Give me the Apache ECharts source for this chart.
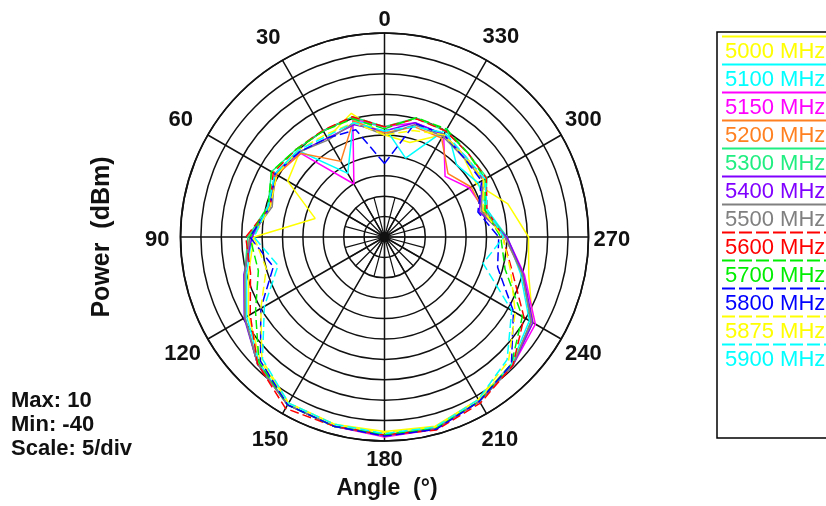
<!DOCTYPE html>
<html><head><meta charset="utf-8">
<script src="https://cdn.jsdelivr.net/npm/echarts@6/dist/echarts.min.js"></script>
<style>html,body{margin:0;padding:0;background:#fff}#c{width:826px;height:506px}</style>
</head><body><div id="c"></div>
<script>
const angles = [0,15,30,45,60,75,90,105,120,135,150,165,180,195,210,225,240,255,270,285,300,315,330,345];
const angleTicks = [0,30,60,90,120,150,180,210,240,270,300,330];
const names = ['5000 MHz','5100 MHz','5150 MHz','5200 MHz','5300 MHz','5400 MHz','5500 MHz','5600 MHz','5700 MHz','5800 MHz','5875 MHz','5900 MHz'];
const colors = ['#ffff00','#00ffff','#ff00ff','#ff8020','#20ee80','#8000ff','#808080','#ff0000','#00ee00','#0000ff','#ffff00','#00ffff'];
const dashed = [false,false,false,false,false,false,false,true,true,true,true,true];
const rMin = -40, rMax = 10, rStep = 5;

const s5000 = [-15,-8.6,-12,-10.6,-12.6,-22.4,-8,-5.5,-1.5,3,7,7.5,7.7,8,6,4,2,-3.4,-4.7,-8.7,-14,-12.5,-11,-16];
const s5100 = [-13,-10.5,-22,-10,-9,-10.5,-7.5,-5,-1,3.5,7.5,8,8.5,8.5,6.5,4,1,-5.5,-10,-14,-13.5,-15,-9.3,-20];
const s5150 = [-13,-10,-25,-11,-9,-11,-7,-4.5,-0.5,4,7.5,8,9,8.8,6.5,4.5,2.7,-4.5,-10,-14.6,-16,-19,-11,-11];
const s5200 = [-14.5,-10.5,-18.6,-11,-9.5,-11,-7,-4.5,-0.5,4,7.5,8,8.8,8.7,6.5,4.5,1.5,-5,-10.5,-15,-15.5,-18,-12,-12];
const s5300 = [-13,-9.5,-10,-9.5,-8,-10.5,-6.5,-4.5,-0.5,4,7.5,8,8.5,8.5,6.5,4.5,1.5,-5,-10,-14.5,-11,-11,-10,-9.8];
const s5400 = [-14,-11.5,-12,-10.5,-9,-11,-7.5,-4.3,-0.3,4,7.5,8,8.7,8.7,6.5,4.5,2,-4.8,-10,-16,-12,-12,-11,-11];
const s5500 = [-15,-11,-12.5,-10.5,-9,-11.5,-7,-4.5,-0.5,4,7.5,8,8.5,8.5,6.5,4.5,1.5,-5,-10.5,-15.5,-12,-12.5,-11.5,-11.5];
const s5600 = [-13,-9.5,-9.8,-9.5,-8.5,-11,-6,-6,-2,4,8.5,8,8.5,9,7,4.5,-0.5,-7.6,-11,-14,-11.2,-11,-10,-10];
const s5700 = [-13.5,-10,-10,-9.5,-8,-10.5,-7,-8,-3.5,3.5,7.5,8,8.5,8.5,6.5,4,-1,-9.4,-11.5,-14.5,-11.5,-11,-9.5,-9.7];
const s5800 = [-22,-12.8,-12,-10.5,-9,-11,-7,-11.8,-5,3,7.5,8,8.8,8.8,6.5,4,-3.5,-11.3,-12,-16.3,-12.5,-12.5,-11,-11.2];
const s5875 = [-15,-11,-11,-10,-9.5,-11,-8,-10,-5,2.5,7,7.5,8,8.2,6,3,-3,-8,-11,-15,-12,-12,-11,-13];
const s5900 = [-14,-11,-11.5,-10,-9,-10.5,-8,-13,-6,2.3,7,7.5,8.2,8.2,6,2.5,-4,-15,-10.8,-14,-11.5,-12,-10.5,-12];
const allSeries = [s5000,s5100,s5150,s5200,s5300,s5400,s5500,s5600,s5700,s5800,s5875,s5900];

const FONT = 'Liberation Sans, Arial, sans-serif';
const chart = echarts.init(document.getElementById('c'));

const series = allSeries.map((vals, k) => {
  const data = angles.map((a, i) => [vals[i], a]);
  data.push([vals[0], 360]);
  return {
    type: 'line', coordinateSystem: 'polar', polarIndex: 0, name: names[k], data,
    symbol: 'none', animation: false, silent: true, z: 3,
    lineStyle: { color: colors[k], width: 1.5, type: dashed[k] ? [9, 4] : 'solid' }
  };
});

// per-label padding [top,right,bottom,left] to centre tick labels around the ring
const labelPad = {
  0: [0,0,16,0], 30: [0,9,24,0], 60: [0,27,11,0], 90: [5,25,0,0],
  120: [11,19,0,0], 150: [27,1,0,0], 180: [22,0,0,0], 210: [27,0,0,2],
  240: [11,0,0,16], 270: [5,0,0,19], 300: [0,0,11,16], 330: [0,0,25,3]
};
const rich = {};
angleTicks.forEach(t => {
  rich['t' + t] = { padding: labelPad[t], fontFamily: FONT, fontWeight: 'bold', fontSize: 22, color: '#111' };
});

const legendGraphics = [];
legendGraphics.push({ type: 'rect', shape: { x: 717, y: 32, width: 140, height: 406 },
  style: { fill: '#fff', stroke: '#000', lineWidth: 1.5 }, z: 1 });
names.forEach((n, i) => {
  legendGraphics.push({ type: 'line', shape: { x1: 722, y1: 36.5 + 28 * i, x2: 830, y2: 36.5 + 28 * i },
    style: { stroke: colors[i], lineWidth: 1.8, lineDash: dashed[i] ? [13, 4] : null }, z: 2 });
  legendGraphics.push({ type: 'text', x: 725, y: 52 + 28 * i,
    style: { text: n, fill: colors[i], font: '22px ' + FONT, textVerticalAlign: 'middle' }, z: 2 });
});
const statLines = ['Max: ' + rMax, 'Min: ' + rMin, 'Scale: ' + rStep + '/div'];
statLines.forEach((t, i) => {
  legendGraphics.push({ type: 'text', x: 11, y: 401 + 24 * i,
    style: { text: t, fill: '#111', font: 'bold 22px ' + FONT, textVerticalAlign: 'middle' } });
});
legendGraphics.push({ type: 'text', x: 102, y: 237, rotation: Math.PI / 2,
  style: { text: 'Power  (dBm)', fill: '#111', font: 'bold 25px ' + FONT, textAlign: 'center', textVerticalAlign: 'middle' } });
legendGraphics.push({ type: 'text', x: 387, y: 489,
  style: { text: 'Angle  (°)', fill: '#111', font: 'bold 23px ' + FONT, textAlign: 'center', textVerticalAlign: 'middle' } });

chart.setOption({
  animation: false,
  backgroundColor: '#fff',
  polar: [
    { center: [384.5, 237], radius: 204 },
    { center: [384.5, 237], radius: 41 }
  ],
  angleAxis: [{
    polarIndex: 0,
    type: 'value', min: 0, max: 360, interval: 30, startAngle: 90, clockwise: false,
    axisLine: { show: true, lineStyle: { color: '#111', width: 1.7 } },
    axisTick: { show: false },
    axisLabel: { show: true, margin: -14, color: '#111', fontFamily: FONT, fontWeight: 'bold', fontSize: 22,
      rich, formatter: v => (angleTicks.indexOf(v) >= 0 ? '{t' + v + '|' + v + '}' : '') },
    splitLine: { show: true, lineStyle: { color: '#111', width: 1.5 } }
  }, {
    polarIndex: 1,
    type: 'value', min: 0, max: 360, interval: 15, startAngle: 90, clockwise: false,
    axisLine: { show: false }, axisTick: { show: false }, axisLabel: { show: false },
    splitLine: { show: true, lineStyle: { color: '#111', width: 1.2 } }
  }],
  radiusAxis: [{
    polarIndex: 0,
    type: 'value', min: rMin, max: rMax, interval: rStep,
    axisLine: { show: false }, axisTick: { show: false }, axisLabel: { show: false },
    splitLine: { show: true, lineStyle: { color: '#111', width: 1.5 } }
  }, {
    polarIndex: 1,
    type: 'value', min: 0, max: 1,
    axisLine: { show: false }, axisTick: { show: false }, axisLabel: { show: false },
    splitLine: { show: false }
  }],
  graphic: legendGraphics,
  series
});
</script></body></html>
